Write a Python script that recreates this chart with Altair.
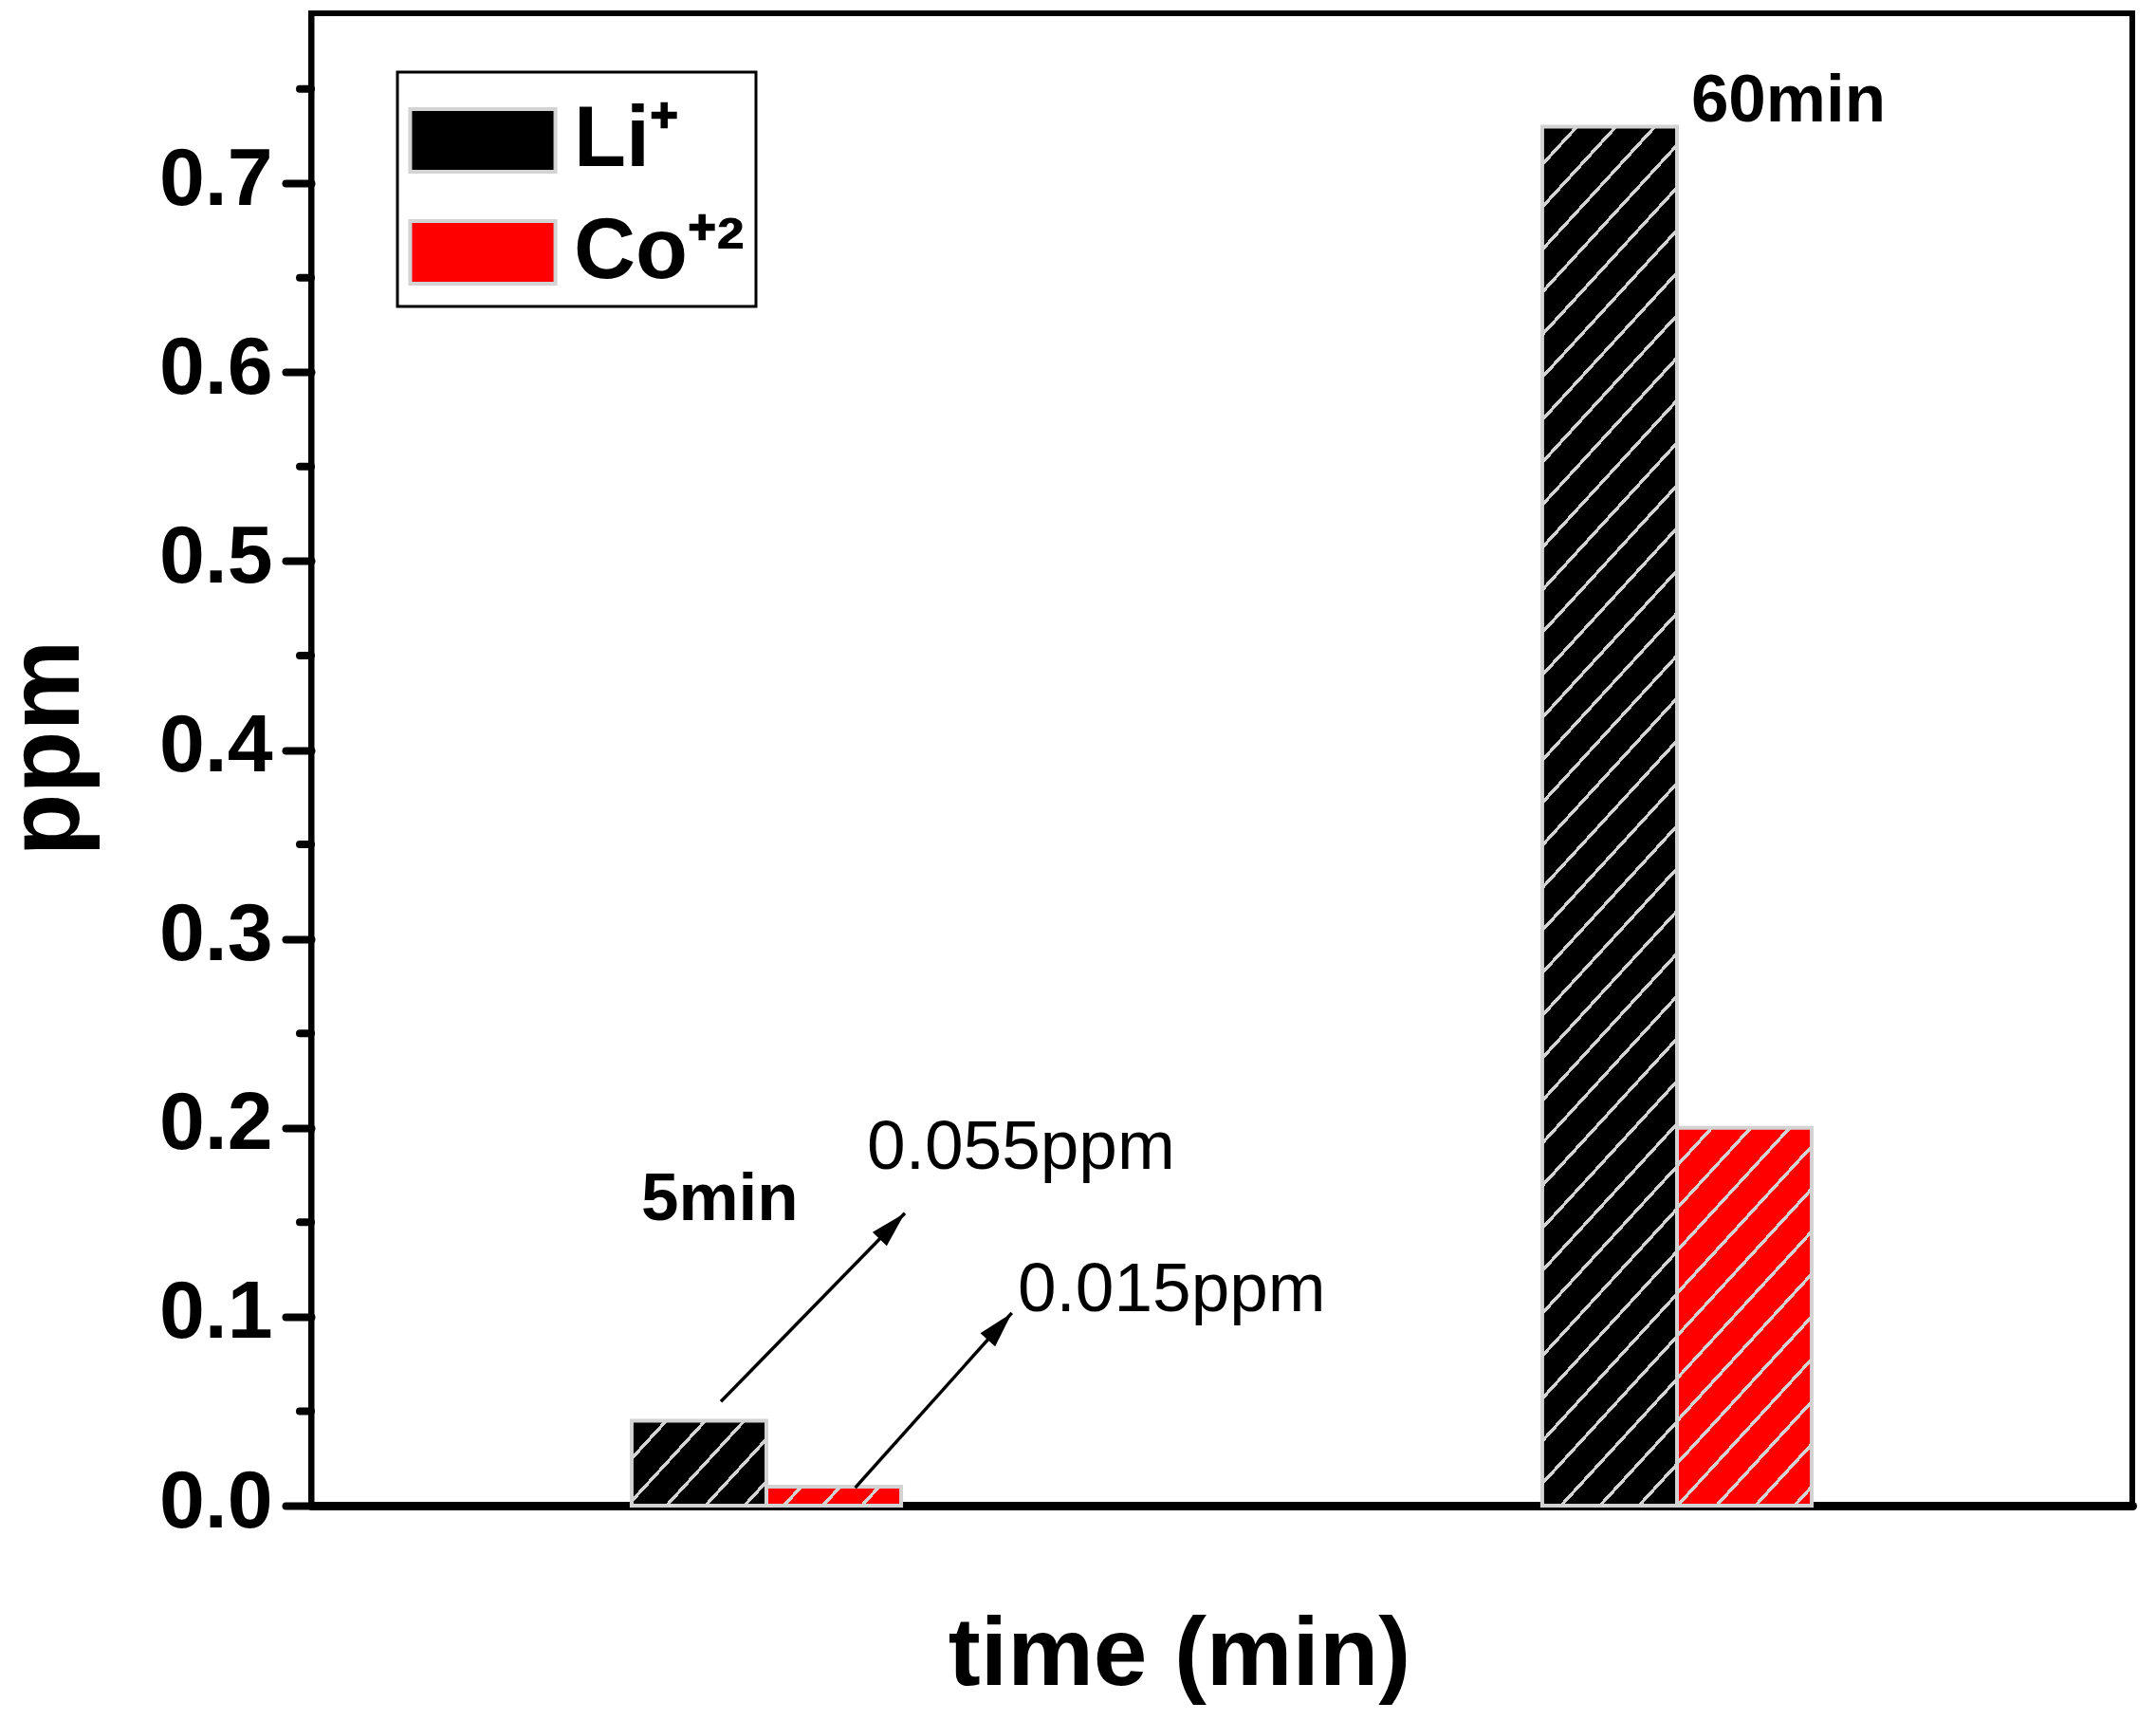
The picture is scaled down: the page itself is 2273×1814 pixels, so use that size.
import math
import altair as alt
import pandas as pd

# ---------------- data ----------------
times = ["5min", "60min"]
ions = ["Li⁺", "Co⁺²"]
li_ppm = [0.045, 0.73]
co_ppm = [0.01, 0.20]
ion_colors = ["#000000", "#ff0000"]

y_major = [0.0, 0.1, 0.2, 0.3, 0.4, 0.5, 0.6, 0.7]
y_minor = [0.05, 0.15, 0.25, 0.35, 0.45, 0.55, 0.65, 0.75]

note_text = ["5min", "60min", "0.055ppm", "0.015ppm"]
note_x = [0.725, 3.031, 1.221, 1.552]
note_y = [0.1514, 0.7328, 0.1782, 0.1028]
note_bold = [True, True, False, False]

arrow_x = [0.90, 1.195]
arrow_y = [0.0551, 0.0095]
arrow_x2 = [1.304, 1.539]
arrow_y2 = [0.1548, 0.102]

# ---------------- layout ----------------
W, H = 1920, 1573
Y_MAX = 0.79
X_MAX = 4.0
PAD_INNER, PAD_OUTER = 0.704, 0.352
FONT = "Liberation Sans, Arial, sans-serif"
HATCH_GRAY = "#d3d3d3"

step = W / (len(times) - PAD_INNER + 2 * PAD_OUTER)
bar_w = step * (1 - PAD_INNER) / len(ions)
px_per_y = H / Y_MAX
px_per_x = W / X_MAX


def hatch(base, w, h, angle=47.5, period=30.3, lw=3.4, phase=27.0):
    s, c = math.sin(math.radians(angle)), math.cos(math.radians(angle))
    D = w * s + h * c
    k = D / (w * w * s * s + h * h * c * c)
    gx, gy = k * w * s, k * h * c
    stops = [alt.GradientStop(offset=0, color=base)]
    d = phase
    while d - lw / 2 < D:
        a = round(max(0.0, (d - lw / 2) / D), 6)
        b = round(min(1.0, (d + lw / 2) / D), 6)
        stops += [
            alt.GradientStop(offset=a, color=base),
            alt.GradientStop(offset=a, color=HATCH_GRAY),
            alt.GradientStop(offset=b, color=HATCH_GRAY),
            alt.GradientStop(offset=b, color=base),
        ]
        d += period
    stops.append(alt.GradientStop(offset=1, color=base))
    return alt.LinearGradient(gradient="linear", stops=stops,
                              x1=0, y1=0, x2=round(gx, 6), y2=round(gy, 6))


rows = []
for i, t in enumerate(times):
    rows.append({"time": t, "ion": ions[0], "ppm": li_ppm[i]})
    rows.append({"time": t, "ion": ions[1], "ppm": co_ppm[i]})
bars_df = pd.DataFrame(rows)

notes_df = pd.DataFrame({"text": note_text, "x": note_x, "y": note_y, "bold": note_bold})
arrows_df = pd.DataFrame({"x": arrow_x, "y": arrow_y, "x2": arrow_x2, "y2": arrow_y2})
arrows_df["angle"] = [
    math.degrees(math.atan2((b - a) * px_per_x, (d - c) * px_per_y))
    for a, b, c, d in zip(arrow_x, arrow_x2, arrow_y, arrow_y2)
]
minor_df = pd.DataFrame({"v": y_minor})

y_scale = alt.Scale(domain=[0, Y_MAX], nice=False, zero=True)

x_enc = alt.X(
    "time:N", sort=times,
    scale=alt.Scale(paddingInner=PAD_INNER, paddingOuter=PAD_OUTER),
    axis=alt.Axis(labels=False, ticks=False, title="time (min)",
                  domainWidth=9, domainColor="black", domainCap="round",
                  titleFont=FONT, titleFontSize=102, titleFontWeight="bold",
                  titleColor="black", titleX=915, titleY=188,
                  titleAlign="center", titleBaseline="alphabetic"),
)
xo_enc = alt.XOffset("ion:N", sort=ions, scale=alt.Scale(paddingInner=0, paddingOuter=0))
y_enc = alt.Y(
    "ppm:Q", scale=y_scale,
    axis=alt.Axis(values=y_major, format=".1f", grid=False,
                  tickSize=27, tickWidth=8, tickCap="round", tickColor="black",
                  domainWidth=6, domainColor="black", domainCap="round",
                  labelFont=FONT, labelFontWeight="bold", labelFontSize=86,
                  labelColor="black", labelPadding=14, labelBaseline="middle",
                  labelOffset=-4, labelOverlap=False, labelFlush=False,
                  title="ppm", titleFont=FONT, titleFontSize=108,
                  titleFontWeight="bold", titleColor="black", titleAngle=270,
                  titleX=-246, titleY=774, titleAlign="center",
                  titleBaseline="alphabetic"),
)

base = alt.Chart(bars_df).encode(x=x_enc, xOffset=xo_enc, y=y_enc)

bars = base.mark_bar().encode(
    color=alt.Color(
        "ion:N", sort=ions,
        scale=alt.Scale(domain=ions, range=ion_colors),
        legend=alt.Legend(title=" ", orient="none", legendX=91, legendY=62,
                          direction="vertical"),
    )
)

hatches = []
for i, t in enumerate(times):
    for j, ion in enumerate(ions):
        v = [li_ppm, co_ppm][j][i]
        g = hatch(ion_colors[j], bar_w, v * px_per_y)
        hatches.append(
            base.mark_bar(fill=g, stroke=HATCH_GRAY, strokeWidth=4)
            .transform_filter((alt.datum.time == t) & (alt.datum.ion == ion))
        )

bars_layer = alt.layer(bars, *hatches)

nx = alt.X("x:Q", scale=alt.Scale(domain=[0, X_MAX], nice=False, zero=False), axis=None)
ny = alt.Y("y:Q", scale=y_scale, axis=None)

bold_notes = alt.Chart(notes_df).transform_filter(alt.datum.bold == True).mark_text(
    align="left", baseline="alphabetic", font=FONT, fontWeight="bold",
    fontSize=71, color="black").encode(x=nx, y=ny, text="text:N")
plain_notes = alt.Chart(notes_df).transform_filter(alt.datum.bold == False).mark_text(
    align="left", baseline="alphabetic", font=FONT, fontWeight="normal",
    fontSize=73, color="black").encode(x=nx, y=ny, text="text:N")

arrow_lines = alt.Chart(arrows_df).mark_rule(color="black", strokeWidth=3.5).encode(
    x=nx, y=ny, x2="x2:Q", y2="y2:Q")
arrow_heads = alt.Chart(arrows_df).mark_point(
    shape="M0,0L0.55,2L-0.55,2Z", size=1444, filled=True, color="black",
    opacity=1, strokeWidth=0).encode(
    x=alt.X("x2:Q", scale=alt.Scale(domain=[0, X_MAX], nice=False, zero=False), axis=None),
    y=alt.Y("y2:Q", scale=y_scale, axis=None),
    angle=alt.Angle("angle:Q", scale=None))

minor_ticks = alt.Chart(minor_df).mark_rule(
    color="black", strokeWidth=8, strokeCap="round").encode(
    y=alt.Y("v:Q", scale=y_scale, axis=None),
    x=alt.value(-12), x2=alt.value(0))

notes_layer = alt.layer(minor_ticks, bold_notes, plain_notes, arrow_lines, arrow_heads)

chart = (
    alt.layer(bars_layer, notes_layer)
    .resolve_scale(x="independent")
    .resolve_axis(x="independent", y="independent")
    .properties(width=W, height=H,
                autosize=alt.AutoSizeParams(type="none"),
                padding={"left": 320, "top": 6, "right": 17, "bottom": 210})
    .configure(background="white")
    .configure_view(stroke="black", strokeWidth=6)
    .configure_legend(
        symbolType="M-2.32,-1H2.32V1H-2.32Z", symbolSize=66 * 66,
        symbolStrokeColor=HATCH_GRAY, symbolStrokeWidth=4,
        symbolOffset=33, symbolOpacity=1,
        labelOffset=51, labelFont=FONT, labelFontWeight="bold",
        labelFontSize=90, labelColor="black", labelLimit=500,
        titleFontSize=1, titlePadding=14, titleColor="white",
        padding=12, rowPadding=28,
        strokeColor="black", strokeWidth=3, fillColor="white",
    )
)

chart.save("out.html", embed_options={"renderer": "svg", "actions": False})
